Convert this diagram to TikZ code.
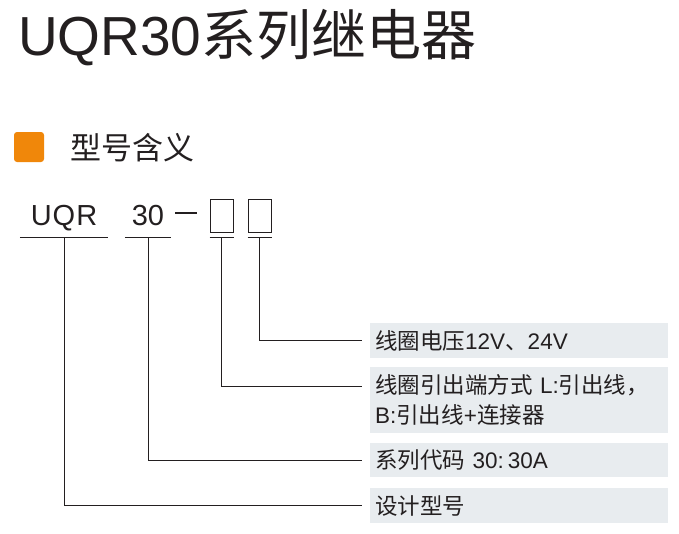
\documentclass[tikz,border=0pt]{standalone}
\usepackage{fontspec}
\setmainfont{Liberation Sans}
\newfontfamily\cjk{Noto Sans CJK SC}
\newcommand{\zh}[1]{{\cjk #1}}

\definecolor{inkdark}{RGB}{35,31,32}
\definecolor{tagorange}{RGB}{240,135,10}
\definecolor{descgray}{RGB}{232,236,239}

\tikzset{
  code/.style={inner sep=0pt, anchor=base, text depth=12pt, text=inkdark,
    font=\fontsize{29pt}{30pt}\selectfont},
  slot/.style={draw=inkdark, line width=1pt, minimum width=23pt,
    minimum height=33pt, inner sep=0pt},
  uline/.style={draw=inkdark, line width=0.9pt},
  link/.style={draw=inkdark, line width=0.8pt},
  desc/.style={fill=descgray, anchor=north west, text width=288pt,
    inner xsep=5pt, inner ysep=0pt, align=left, text=inkdark,
    font=\fontsize{22.5pt}{30pt}\selectfont},
}

\begin{document}
\begin{tikzpicture}[x=1pt,y=-1pt]
\useasboundingbox (0,0) rectangle (679,533);

% title and section
\node[anchor=base west, inner sep=0pt, text=inkdark,
  font=\fontsize{55pt}{60pt}\selectfont] (title) at (18,55) {UQR30\zh{系列继电器}};
\node[fill=tagorange, rounded corners=3pt, minimum size=30pt, inner sep=0pt] (tag) at (29,147) {};
\node[anchor=west, inner sep=0pt, text=inkdark,
  font=\fontsize{31pt}{34pt}\selectfont] (section) at (70,148) {\zh{型号含义}};

% model code
\node[code, minimum width=88pt] (uqr) at (64,225) {U\kern1ptQ\kern1ptR};
\node[code, minimum width=46pt] (series) at (148,225) {30};
\draw[inkdark, line width=2pt] (175,213) -- (197,213);
\node[slot] (boxA) at (221.5,215.5) {};
\node[slot] (boxB) at (259.5,215.5) {};
\coordinate (boxA-u) at ([yshift=-5pt]boxA.south);
\coordinate (boxB-u) at ([yshift=-5pt]boxB.south);

\draw[uline] (uqr.south west) -- (uqr.south east);
\draw[uline] (series.south west) -- (series.south east);
\draw[uline] ([xshift=-12pt]boxA-u) -- ([xshift=12pt]boxA-u);
\draw[uline] ([xshift=-12pt]boxB-u) -- ([xshift=12pt]boxB-u);

% descriptions
\node[desc, minimum height=35pt] (descA) at (370,323) {\zh{线圈电压}12V\zh{、}24V};
\node[desc, minimum height=66pt] (descB) at (370,367)
  {\zh{线圈引出端方式} L:\zh{引出线，}\\B:\zh{引出线}+\zh{连接器}};
\node[desc, minimum height=34pt] (descC) at (370,443) {\zh{系列代码} 30:\hspace{4pt}30A};
\node[desc, minimum height=35pt] (descD) at (370,488) {\zh{设计型号}};

% connectors
\draw[link] (boxB-u) |- ([xshift=-8pt]descA.west);
\draw[link] (boxA-u) |- ([xshift=-8pt,yshift=-19pt]descB.north west);
\draw[link] (series.south) |- ([xshift=-8pt]descC.west);
\draw[link] (uqr.south) |- ([xshift=-8pt]descD.west);
\end{tikzpicture}
\end{document}
